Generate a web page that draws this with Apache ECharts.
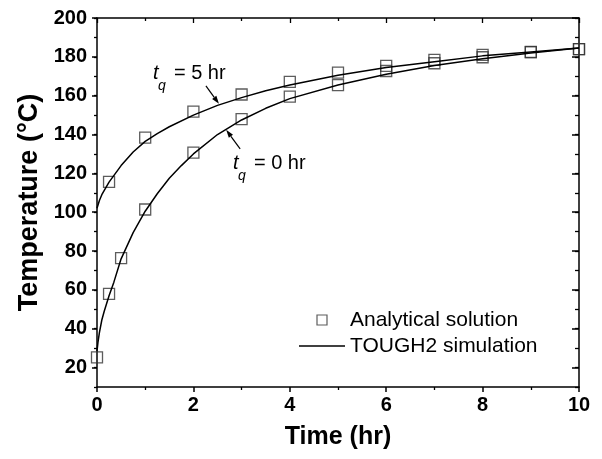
<!DOCTYPE html>
<html><head><meta charset="utf-8">
<script src="https://cdn.jsdelivr.net/npm/echarts@6/dist/echarts.min.js"></script>
<style>html,body{margin:0;padding:0;background:#fff}#c{width:602px;height:459px}</style>
</head><body><div id="c"></div>
<script>
// Analytical solution (squares)
const timeTq0 = [0, 0.25, 0.5, 1, 2, 3, 4, 5, 6, 7, 8, 9, 10];
const analyticalTq0 = [25.3, 57.9, 76.4, 101.4, 130.7, 147.9, 159.5, 165.4, 172.7, 176.7, 179.8, 182.4, 184];
const timeTq5 = [0.25, 1, 2, 3, 4, 5, 6, 7, 8, 9, 10];
const analyticalTq5 = [115.6, 138.4, 151.8, 160.6, 167.1, 171.9, 175.3, 178.4, 181, 182.5, 184];
// TOUGH2 simulation (lines)
const simTimeTq0 = [0, 0.02, 0.05, 0.1, 0.15, 0.25, 0.35, 0.5, 0.75, 1, 1.25, 1.5, 1.75, 2, 2.5, 3, 3.5, 4, 5, 6, 7, 8, 9, 10];
const simTq0 = [28.5, 33, 38, 44.5, 49, 57, 64, 76, 89.5, 100.5, 109.5, 117.5, 124, 130, 140, 147.5, 153.5, 158.5, 165.5, 171, 175.5, 179, 182, 184.5];
const simTimeTq5 = [0, 0.05, 0.1, 0.25, 0.5, 0.75, 1, 1.25, 1.5, 2, 2.5, 3, 3.5, 4, 5, 6, 7, 8, 9, 10];
const simTq5 = [102, 106, 109, 115.5, 124, 131, 136.5, 140.5, 144, 150, 155, 159, 162.5, 165.5, 170.5, 174.5, 177.5, 180.5, 182.5, 184.5];
// Tick labels
const yMajorTicks = [20, 40, 60, 80, 100, 120, 140, 160, 180, 200];
// Annotations (data coordinates)
const labelTq5 = {x: 1.16, y: 167.6, sub: 'q', rest: '= 5 hr'};
const labelTq0 = {x: 2.82, y: 121.3, sub: 'q', rest: '= 0 hr'};
const arrowTq5 = {from: [2.26, 165], to: [2.53, 155.8]};
const arrowTq0 = {from: [2.97, 132.6], to: [2.68, 142.4]};

const FONT = 'Liberation Sans';
const chart = echarts.init(document.getElementById('c'));
const pair = (xs, ys) => xs.map((x, i) => [x, ys[i]]);
const axisLineStyle = {color: '#000', width: 1.5};

const xBase = {type: 'value', min: 0, max: 10, interval: 2, splitLine: {show: false}, minorSplitLine: {show: false}};
const yBase = {type: 'value', min: 10, max: 200, interval: 10, splitLine: {show: false}, minorSplitLine: {show: false}};

chart.setOption({
  animation: false,
  backgroundColor: '#fff',
  grid: {left: 97, right: 23, top: 18, bottom: 72},
  xAxis: [
    Object.assign({}, xBase, {
      position: 'bottom',
      axisLine: {lineStyle: axisLineStyle},
      axisTick: {inside: false, length: 5, lineStyle: {color: '#000', width: 1.5}},
      minorTick: {show: true, splitNumber: 2, length: 3, lineStyle: {color: '#000', width: 1.3}},
      axisLabel: {fontFamily: FONT, fontWeight: 'bold', fontSize: 20, color: '#000', margin: 8},
      name: 'Time (hr)', nameLocation: 'middle', nameGap: 38,
      nameTextStyle: {fontFamily: FONT, fontWeight: 'bold', fontSize: 25, color: '#000'}
    }),
    Object.assign({}, xBase, {
      position: 'top',
      axisLine: {lineStyle: axisLineStyle},
      axisTick: {inside: true, length: 5, lineStyle: {color: '#000', width: 1.3}},
      minorTick: {show: true, splitNumber: 2, length: 3, lineStyle: {color: '#000', width: 1.3}},
      axisLabel: {show: false}
    })
  ],
  yAxis: [
    Object.assign({}, yBase, {
      position: 'left',
      axisLine: {show: true, lineStyle: axisLineStyle},
      axisTick: {inside: false, length: 3, lineStyle: {color: '#000', width: 1.3}},
      axisLabel: {customValues: yMajorTicks, fontFamily: FONT, fontWeight: 'bold', fontSize: 20, color: '#000', margin: 10},
      name: 'Temperature (°C)', nameLocation: 'middle', nameGap: 54,
      nameTextStyle: {fontFamily: FONT, fontWeight: 'bold', fontSize: 27, color: '#000'}
    }),
    Object.assign({}, yBase, {
      position: 'left',
      axisLine: {show: false},
      axisTick: {inside: false, length: 5, customValues: yMajorTicks, lineStyle: {color: '#000', width: 1.5}},
      axisLabel: {show: false}
    }),
    Object.assign({}, yBase, {
      position: 'right',
      axisLine: {show: true, lineStyle: axisLineStyle},
      axisTick: {inside: true, length: 4, lineStyle: {color: '#000', width: 1.3}},
      axisLabel: {show: false}
    }),
    Object.assign({}, yBase, {
      position: 'right',
      axisLine: {show: false},
      axisTick: {inside: true, length: 7, customValues: yMajorTicks, lineStyle: {color: '#000', width: 1.5}},
      axisLabel: {show: false}
    })
  ],
  legend: {
    orient: 'vertical', left: 294, top: 303, itemWidth: 46, itemHeight: 10, itemGap: 2,
    symbolKeepAspect: true,
    textStyle: {fontFamily: FONT, fontSize: 21, color: '#000', lineHeight: 24},
    data: [
      {name: 'Analytical solution', icon: 'path://M0,0H10V10H0Z',
       itemStyle: {color: 'rgba(0,0,0,0)', borderColor: '#333', borderWidth: 1.2}},
      {name: 'TOUGH2 simulation', icon: 'path://M0,0H46V1.4H0Z',
       itemStyle: {color: '#000', borderWidth: 0}}
    ]
  },
  series: [
    {name: 'TOUGH2 simulation', type: 'line', data: pair(simTimeTq0, simTq0), symbol: 'none', smooth: false,
     lineStyle: {color: '#000', width: 1.5}, itemStyle: {color: '#000'}},
    {name: 'TOUGH2 simulation', type: 'line', data: pair(simTimeTq5, simTq5), symbol: 'none', smooth: false,
     lineStyle: {color: '#000', width: 1.5}, itemStyle: {color: '#000'}},
    {name: 'Analytical solution', type: 'scatter', data: pair(timeTq0, analyticalTq0), symbol: 'rect', symbolSize: 11, clip: false,
     itemStyle: {color: 'rgba(0,0,0,0)', borderColor: '#333', borderWidth: 1.3}},
    {name: 'Analytical solution', type: 'scatter', data: pair(timeTq5, analyticalTq5), symbol: 'rect', symbolSize: 11, clip: false,
     itemStyle: {color: 'rgba(0,0,0,0)', borderColor: '#333', borderWidth: 1.3}}
  ]
});

function px(p) { return chart.convertToPixel({xAxisIndex: 0, yAxisIndex: 0}, p); }
function labelGraphics(lab) {
  const [bx, by] = px([lab.x, lab.y]); // left, baseline
  return [
    {type: 'text', x: bx, y: by - 7, style: {text: 't', font: 'italic 20px ' + FONT, fill: '#000', verticalAlign: 'middle'}},
    {type: 'text', x: bx + 5, y: by + 5, style: {text: lab.sub, font: 'italic 14px ' + FONT, fill: '#000', verticalAlign: 'middle'}},
    {type: 'text', x: bx + 21, y: by - 7, style: {text: lab.rest, font: '20px ' + FONT, fill: '#000', verticalAlign: 'middle'}}
  ];
}
function arrowGraphics(a) {
  const [x1, y1] = px(a.from), [x2, y2] = px(a.to);
  const dx = x2 - x1, dy = y2 - y1, L = Math.hypot(dx, dy), ux = dx / L, uy = dy / L;
  const hl = 8, hw = 2.6;
  const bx = x2 - ux * hl, by = y2 - uy * hl;
  return [
    {type: 'line', shape: {x1, y1, x2: bx, y2: by}, style: {stroke: '#000', lineWidth: 1.2}},
    {type: 'polygon', shape: {points: [[x2, y2], [bx - uy * hw, by + ux * hw], [bx + uy * hw, by - ux * hw]]}, style: {fill: '#000'}}
  ];
}
chart.setOption({graphic: [].concat(labelGraphics(labelTq5), labelGraphics(labelTq0), arrowGraphics(arrowTq5), arrowGraphics(arrowTq0))});
</script>
</body></html>
